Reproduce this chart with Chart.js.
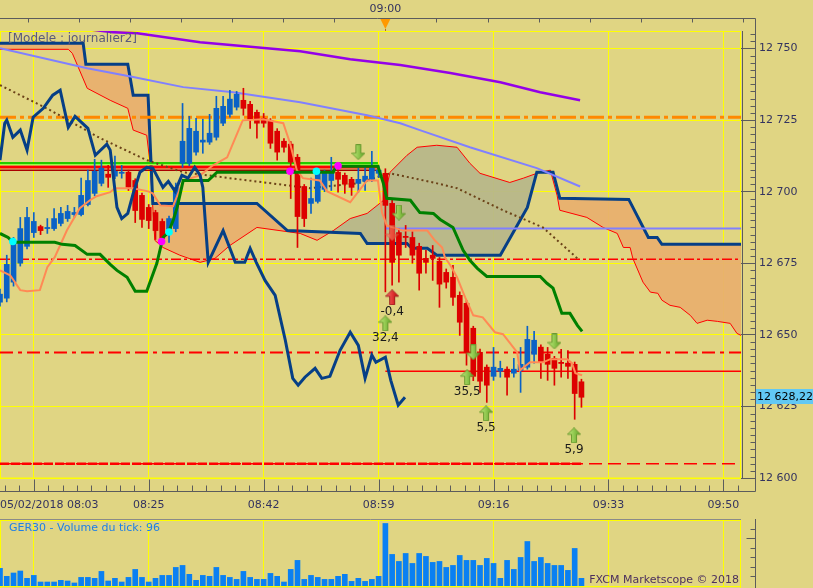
<!DOCTYPE html>
<html>
<head>
<meta charset="utf-8">
<script src="https://cdn.jsdelivr.net/npm/chart.js@4.4.1/dist/chart.umd.min.js"></script>
<style>
html, body { margin: 0; padding: 0; background: #e0d583; }
#wrap { position: relative; width: 813px; height: 588px; overflow: hidden; background: #e0d583; }
#main { position: absolute; left: 0; top: 0; }
#vol { position: absolute; left: 0; top: 519px; }
</style>
</head>
<body>
<div id="wrap">
    <canvas id="main" width="813" height="519"></canvas>
    <canvas id="vol" width="813" height="69"></canvas>
</div>
<script>
// x = minutes after 08:03 (one candle per minute)
const gridMinutes = [5, 22, 39, 56, 73, 90, 107];
const timeLabels  = ['', '08:25', '08:42', '08:59', '09:16', '09:33', '09:50'];
const firstLabel  = '05/02/2018 08:03';
const priceTicks  = [12600, 12625, 12650, 12675, 12700, 12725, 12750];
const lastPrice   = 12628.22;

const opens = [12661.4,12662.8,12668.4,12675.0,12680.9,12685.7,12687.8,12687.1,12687.1,12688.9,
    12690.6,12692.0,12692.0,12695.5,12699.4,12702.9,12706.1,12705.4,12706.4,12706.8,
    12703.9,12698.7,12694.5,12692.7,12689.6,12685.7,12687.1,12709.9,12709.9,12713.8,
    12717.3,12717.3,12719.0,12723.9,12727.0,12729.5,12731.9,12730.5,12727.7,12725.6,
    12724.9,12721.1,12717.6,12716.6,12712.0,12701.8,12695.9,12696.6,12700.8,12703.9,
    12706.8,12705.7,12704.3,12702.9,12703.6,12704.3,12706.4,12706.4,12695.9,12685.7,
    12684.4,12684.0,12680.9,12676.7,12677.8,12675.7,12671.8,12670.1,12663.8,12661.0,
    12652.3,12643.9,12638.7,12635.5,12637.3,12638.0,12636.6,12637.6,12638.7,12643.2,
    12645.7,12643.2,12641.8,12640.4,12640.1,12639.7,12633.6];
const highs = [12666.0,12677.8,12684.0,12691.0,12694.5,12692.7,12688.3,12690.6,12694.1,12694.5,
    12695.2,12694.5,12704.7,12707.5,12711.3,12711.0,12709.2,12712.4,12709.2,12707.5,
    12704.5,12699.5,12695.5,12693.5,12690.5,12691.5,12703.0,12730.8,12726.3,12725.6,
    12725.3,12727.0,12733.3,12733.3,12735.4,12735.0,12736.1,12731.5,12728.5,12727.3,
    12725.5,12722.0,12718.5,12717.5,12713.0,12702.5,12704.7,12708.2,12707.5,12712.0,
    12708.9,12706.5,12705.0,12708.2,12708.5,12714.1,12709.0,12708.0,12697.0,12687.0,
    12688.2,12686.0,12682.0,12679.5,12681.2,12677.0,12673.0,12674.3,12665.0,12662.0,
    12653.0,12645.0,12639.5,12645.6,12640.8,12638.8,12641.8,12645.6,12653.0,12651.2,
    12646.5,12645.6,12642.5,12644.9,12644.5,12640.5,12634.5];
const lows = [12660.0,12661.5,12667.0,12674.0,12680.0,12684.0,12685.0,12685.4,12686.5,12688.0,
    12689.6,12691.0,12691.5,12695.0,12698.5,12702.0,12701.5,12704.5,12704.7,12700.4,
    12689.2,12687.5,12687.1,12683.3,12682.5,12682.3,12686.0,12708.5,12709.0,12712.7,
    12713.4,12716.5,12718.0,12723.0,12726.0,12728.5,12726.7,12722.1,12718.7,12722.5,
    12715.1,12711.0,12713.8,12697.6,12680.5,12687.8,12692.4,12696.0,12700.0,12700.4,
    12699.8,12699.4,12698.7,12699.8,12700.4,12703.5,12705.0,12665.0,12667.3,12668.4,
    12680.5,12675.0,12665.6,12671.5,12669.0,12659.6,12666.3,12660.3,12649.8,12639.4,
    12634.0,12629.9,12626.4,12634.1,12635.2,12628.9,12635.2,12629.9,12638.0,12640.1,
    12634.8,12634.1,12632.4,12635.2,12634.8,12620.5,12624.7];
const closes = [12664.2,12674.6,12682.3,12687.1,12691.0,12689.6,12686.4,12687.5,12690.6,12692.4,
    12693.1,12692.7,12698.7,12703.9,12707.1,12708.2,12705.0,12707.1,12706.8,12701.5,
    12693.4,12690.3,12689.9,12686.4,12683.7,12690.6,12701.5,12717.6,12722.1,12721.1,
    12718.0,12720.4,12729.1,12729.8,12732.3,12734.0,12729.1,12725.3,12723.9,12723.9,
    12716.9,12713.8,12715.5,12710.3,12691.3,12690.6,12697.6,12706.8,12706.8,12706.8,
    12704.3,12702.6,12701.5,12704.3,12705.4,12708.2,12707.5,12695.2,12675.3,12677.8,
    12684.0,12677.8,12671.5,12675.3,12676.7,12667.7,12668.4,12663.1,12654.4,12643.9,
    12635.5,12633.8,12632.4,12638.7,12638.3,12635.2,12638.0,12639.7,12648.4,12648.1,
    12640.4,12639.7,12638.3,12640.0,12639.0,12629.5,12628.2];
const volumes = [221,121,163,188,96,133,50,50,50,71,63,38,108,108,96,183,63,96,50,108,
    208,108,50,96,133,133,233,258,146,71,133,121,233,133,108,83,183,108,83,83,
    158,121,50,208,321,83,133,108,83,83,121,146,58,96,58,83,121,784,396,308,
    408,283,408,371,296,308,233,258,383,321,321,258,346,283,96,321,208,358,558,308,
    358,283,258,258,196,471,96];

// Ichimoku cloud (spans shifted forward)
const spanAX = [0,10.1,10.7,12.9,16.3,18.9,19.7,21.7,22.2,22.9,24.1,26.6,29.6,31.8,34.0,38.0,44.4,46.9,49.3,
    51.8,54.3,56.7,57.7,60.2,61.7,64.6,67.6,69.5,71.0,75.4,77.4,79.4,81.4,82.4,82.8,86.8,89.2,91.3,
    92.2,93.2,93.6,95.1,96.2,97.3,97.9,99.1,100.6,102.1,103.1,104.6,106.1,108.0,109.0,110.2];
const spanAY = [12749.7,12749.7,12748.3,12736.1,12731.9,12729.1,12721.5,12719.7,12709.9,12683.0,12680.5,
    12677.8,12675.3,12676.7,12681.2,12687.5,12685.4,12683.0,12686.4,12690.6,12692.4,12696.9,12706.8,
    12712.7,12715.5,12716.2,12715.5,12709.9,12706.4,12703.2,12704.7,12706.4,12707.5,12698.7,12693.5,
    12691.0,12687.5,12685.4,12680.5,12680.5,12676.7,12668.4,12664.9,12664.5,12662.1,12660.3,12659.6,
    12656.8,12654.0,12655.1,12654.7,12654.0,12650.5,12649.1];
const spanBX = [0,12.3,12.7,18.9,19.7,21.9,22.6,38.0,42.5,53.3,54.3,60.2,60.9,63.2,64.6,74.0,78.0,79.4,
    81.8,82.8,93.0,95.9,97.2,97.9,110.2];
const spanBY = [12751.8,12751.8,12744.5,12744.5,12733.7,12733.7,12695.9,12695.9,12686.4,12685.4,12681.9,
    12681.9,12680.2,12680.2,12677.8,12677.8,12694.5,12706.8,12706.8,12697.7,12697.3,12684.0,12684.0,
    12681.6,12681.6];

const tenkanX = [0,1.5,3.0,4.0,5.9,7.0,8.1,9.9,11.8,13.3,14.3,16.3,17.0,19.7,21.9,22.6,23.7,25.6,27.1,
    29.6,31.5,33.6,35.1,35.9,38.9,41.9,42.9,43.9,44.8,47.3,48.4,51.8,52.8,54.3,55.9,56.5,57.2,59.6,
    63.2,64.3,65.4,65.8,66.6,67.6,68.8,70.0,71.4,73.2,74.4,76.5,76.9,78.4,80.3,81.4,83.9,84.6,85.1,86.1];
const tenkanY = [12672.5,12670.8,12665.6,12665.2,12665.6,12673.6,12677.1,12686.5,12694.2,12697.0,12698.4,
    12699.8,12701.2,12701.2,12700.1,12699.4,12695.2,12694.9,12703.9,12705.7,12709.2,12712.0,12720.4,
    12724.9,12725.3,12723.9,12716.9,12707.5,12704.7,12703.9,12700.1,12696.3,12699.4,12703.9,12703.9,
    12692.7,12688.2,12686.4,12686.4,12683.0,12680.5,12677.1,12674.3,12670.1,12663.1,12656.8,12656.1,
    12650.9,12650.2,12643.9,12637.6,12640.4,12640.4,12641.5,12641.5,12640.1,12636.6,12635.9];

const kijunX = [0,1.2,1.9,8.1,9.2,11.1,12.9,14.8,16.3,17.3,18.8,20.0,21.7,23.2,24.1,24.9,25.6,26.2,27.1,
    30.8,32.1,49.3,49.7,55.9,56.7,57.2,60.7,62.1,64.1,65.1,67.0,68.5,69.5,70.6,72.0,79.9,80.9,81.8,
    83.1,84.3,85.4,86.1];
const kijunY = [12685.4,12684.0,12682.3,12682.3,12681.6,12681.2,12678.1,12678.1,12674.6,12672.5,12670.1,
    12665.2,12665.2,12675.0,12684.0,12685.7,12689.9,12694.5,12703.9,12703.9,12706.8,12706.8,12708.9,
    12708.9,12702.9,12697.7,12697.0,12692.7,12692.4,12690.3,12687.5,12679.5,12676.0,12673.2,12670.4,
    12670.4,12668.0,12666.3,12657.5,12657.5,12653.3,12651.2];

const chikouX = [0,0.7,1.0,1.9,3.0,4.0,4.9,6.4,7.8,8.9,10.1,11.1,13.0,14.1,15.8,16.3,17.3,18.0,18.9,
    19.7,20.7,21.7,22.6,24.1,24.9,25.9,26.9,27.8,28.8,29.6,30.0,30.8,33.0,34.8,36.2,37.0,37.9,39.2,
    40.7,42.2,43.3,44.1,45.1,46.6,47.6,48.8,50.3,51.8,53.0,54.0,55.0,55.6,57.0,57.8,58.9,59.9];
const chikouY = [12711.0,12723.9,12725.0,12719.0,12721.5,12714.5,12726.0,12729.1,12733.7,12735.4,12722.5,
    12726.3,12722.1,12712.7,12716.6,12714.5,12694.5,12690.6,12692.4,12699.4,12706.8,12708.5,12708.2,
    12701.5,12703.6,12700.1,12705.7,12704.7,12708.5,12705.7,12701.5,12675.3,12686.4,12675.3,12675.3,
    12680.2,12675.3,12669.0,12663.8,12648.1,12634.8,12632.4,12635.2,12638.3,12634.8,12635.5,12644.6,
    12650.9,12646.3,12634.8,12642.9,12640.4,12642.2,12634.1,12625.4,12628.2];

const maSlowX = [10.0,16.7,20.3,29.6,44.4,51.8,59.2,66.6,74.0,79.9,85.8];
const maSlowY = [12757.5,12755.7,12755.3,12752.2,12749.0,12746.2,12744.2,12741.4,12738.2,12734.7,12731.9];
const maMidX = [0,12.9,19.7,27.1,34.5,44.4,54.3,59.2,62.1,69.5,79.4,85.8];
const maMidY = [12750.1,12743.1,12740.0,12736.5,12734.7,12731.2,12726.7,12723.9,12721.5,12715.5,12708.2,12701.8];
const maDotX = [0,7.4,14.8,21.7,27.1,34.0,45.9,52.8,57.7,64.1,67.6,74.4,80.3,85.4];
const maDotY = [12737.2,12728.5,12718.7,12711.0,12706.8,12704.7,12701.2,12702.9,12706.4,12703.2,12701.2,12693.5,12687.5,12676.7];

// horizontal levels: price, from minute, to minute
const bandPrices = [12710.0, 12709.5, 12708.6, 12707.5];
const bandFrom = 0, bandTo = 55.9;
const orangeLevel = 12726.0;
const redDashDot = [12676.4, 12643.8];
const redSolid = 12637.3;
const redDashed = 12605.0;
const blueLevel = 12687.1;
const levelFrom = 57, levelTo = 110.5, lastCandle = 86;

// markers
const downArrowX = [53, 59, 70, 82];
const downArrowY = [12713.8, 12692.7, 12643.9, 12647.7];
const upArrowX = [57, 69.1, 71.9, 84.9];
const upArrowY = [12654.0, 12635.2, 12622.6, 12614.9];
const upArrowTags = ['32,4', '35,5', '5,5', '5,9'];
const redArrowX = [58];
const redArrowY = [12663.1];
const redArrowTags = ['-0,4'];
const fadedArrowX = [58];
const fadedArrowY = [12685.5];
const cyanX = [1.9, 25.0, 46.8];
const cyanY = [12682.6, 12685.9, 12707.1];
const magentaX = [23.9, 42.9, 50.0];
const magentaY = [12682.6, 12707.1, 12709.0];

const X_MAX = 109.6;
const Y_MIN = 12600, Y_MAX = 12756.1;
const VOL_MAX = 840;
const textColor = '#33335f';
const axisColor = '#5c5c5c';
const FONT = "'DejaVu Sans', sans-serif";
Chart.defaults.font.family = FONT;

const pts = (xs, ys) => xs.map((x, k) => ({ x, y: ys[k] }));
const level = (p, a, b) => [{ x: a, y: p }, { x: b, y: p }];
const fmt = v => String(v).replace(/\B(?=(\d{3})+(?!\d))/g, ' ');
const half = v => Math.round(v) + 0.5;

function arrowImg(up, c1, c2, edge) {
    const cv = document.createElement('canvas');
    cv.width = 14; cv.height = 16;
    const g = cv.getContext('2d');
    const grad = g.createLinearGradient(0, 0, 14, 0);
    grad.addColorStop(0, c1); grad.addColorStop(1, c2);
    g.beginPath();
    if (up) {
        g.moveTo(7, 0.5); g.lineTo(13.5, 7); g.lineTo(9.5, 7); g.lineTo(9.5, 15.5);
        g.lineTo(4.5, 15.5); g.lineTo(4.5, 7); g.lineTo(0.5, 7);
    } else {
        g.moveTo(7, 15.5); g.lineTo(13.5, 9); g.lineTo(9.5, 9); g.lineTo(9.5, 0.5);
        g.lineTo(4.5, 0.5); g.lineTo(4.5, 9); g.lineTo(0.5, 9);
    }
    g.closePath();
    g.fillStyle = grad; g.fill();
    g.strokeStyle = edge; g.lineWidth = 1; g.stroke();
    return cv;
}

const candleX = opens.map((_, i) => i);
const candleColors = closes.map((c, i) => c >= opens[i] ? '#0a62c6' : '#dd0000');

const lineDs = (data, color, width, order, extra) => Object.assign({
    type: 'line', data, borderColor: color, borderWidth: width, pointRadius: 0,
    tension: 0, fill: false, order
}, extra || {});

const markerDs = (xs, ys, style, order, extra) => Object.assign({
    type: 'line', data: pts(xs, ys), showLine: false, pointStyle: style,
    pointRadius: 4, order
}, extra || {});

const datasets = [
    lineDs(pts(spanAX, spanAY), '#ff0000', 1, 100, {
        fill: { target: 1, above: 'rgba(183,183,137,0.95)', below: 'rgba(232,176,110,0.95)' }
    }),
    lineDs(pts(spanBX, spanBY), '#063f86', 3, 99),
    lineDs(level(orangeLevel, 0, levelTo), '#ff8800', 3, 90, { borderDash: [16, 4, 4, 4] }),
    lineDs(level(redDashDot[0], 0, levelTo), '#ff0000', 1.5, 90, { borderDash: [10, 3, 3, 3] }),
    lineDs(level(redDashDot[1], 0, levelTo), '#ff0000', 2, 90, { borderDash: [13, 5, 4, 5] }),
    lineDs(level(redSolid, levelFrom, levelTo), '#ff0000', 1.5, 90),
    lineDs(level(redDashed, 0, lastCandle), '#ff0000', 2.5, 90, { borderDash: [9, 2] }),
    lineDs(level(redDashed, 0, levelTo), '#ff0000', 1.5, 90, { borderDash: [13, 6] }),
    lineDs(level(blueLevel, levelFrom, levelTo), '#8080ff', 2, 90),
    lineDs(level(bandPrices[0], bandFrom, bandTo), '#22cc00', 2, 88),
    lineDs(level(bandPrices[1], bandFrom, bandTo), '#99ff44', 1.5, 88),
    lineDs(level(bandPrices[2], bandFrom, bandTo), '#ff0000', 3, 88),
    lineDs(level(bandPrices[3], bandFrom, bandTo), '#aa0000', 1.5, 88),
    lineDs(pts(maSlowX, maSlowY), '#9400e8', 2.5, 80),
    lineDs(pts(maMidX, maMidY), '#8080ff', 2, 80),
    lineDs(pts(maDotX, maDotY), '#6b4218', 2, 80, { borderDash: [2, 3] }),
    {
        type: 'bar', data: candleX.map(i => ({ x: i, y: [lows[i], highs[i]] })),
        backgroundColor: candleColors, barThickness: 1, grouped: false, order: 70
    },
    {
        type: 'bar', data: candleX.map(i => ({ x: i, y: [opens[i], closes[i]] })),
        backgroundColor: candleColors, barThickness: 5, grouped: false, order: 69
    },
    lineDs(pts(tenkanX, tenkanY), '#ff8a55', 2, 60),
    lineDs(pts(kijunX, kijunY), '#008000', 3, 59),
    lineDs(pts(chikouX, chikouY), '#063f86', 3, 58),
    markerDs(cyanX, cyanY, 'circle', 10, { pointRadius: 3.8, pointBackgroundColor: '#00ffff', pointBorderWidth: 0 }),
    markerDs(magentaX, magentaY, 'circle', 10, { pointRadius: 3.8, pointBackgroundColor: '#ff00ff', pointBorderWidth: 0 }),
    markerDs(fadedArrowX, fadedArrowY, arrowImg(false, 'rgba(255,150,120,0.75)', 'rgba(220,60,40,0.75)', 'rgba(200,80,60,0.6)'), 6),
    markerDs(downArrowX, downArrowY, arrowImg(false, '#c8f080', '#5aa020', '#6a9a30'), 5),
    markerDs(upArrowX, upArrowY, arrowImg(true, '#c8f080', '#5aa020', '#6a9a30'), 5, { tags: upArrowTags }),
    markerDs(redArrowX, redArrowY, arrowImg(true, '#ff7070', '#c00000', '#a02020'), 5, { tags: redArrowTags })
];

const mainDeco = {
    id: 'mainDeco',
    beforeDatasetsDraw(chart) {
        const { ctx, chartArea: a } = chart;
        ctx.save();
        ctx.strokeStyle = '#ffff00';
        ctx.lineWidth = 1;
        ctx.strokeRect(a.left + 0.5, a.top + 0.5, a.right - a.left - 1, a.bottom - a.top - 0.5);
        ctx.restore();
    },
    afterDatasetsDraw(chart) {
        const { ctx } = chart;
        ctx.save();
        ctx.font = '12px ' + FONT;
        ctx.fillStyle = '#1a1a1a';
        ctx.textAlign = 'center';
        ctx.textBaseline = 'middle';
        chart.data.datasets.forEach((ds, i) => {
            if (!ds.tags) return;
            chart.getDatasetMeta(i).data.forEach((el, k) => ctx.fillText(ds.tags[k], el.x, el.y + 15));
        });
        ctx.restore();
    },
    afterDraw(chart) {
        const { ctx, chartArea: a, scales: { x, y } } = chart;
        const axR = a.right + 14.5, topY = 18.5, botY = 491.5;
        ctx.save();
        ctx.strokeStyle = axisColor;
        ctx.lineWidth = 1;
        ctx.beginPath();
        ctx.moveTo(0, topY); ctx.lineTo(axR, topY);
        ctx.moveTo(axR, topY); ctx.lineTo(axR, botY);
        ctx.moveTo(0, botY); ctx.lineTo(axR, botY);
        ctx.moveTo(a.right + 1.5, a.top); ctx.lineTo(a.right + 1.5, a.bottom);
        for (let m = 57 - 7.56 * 7; m <= x.max + 0.5; m += 7.56) {
            const p = half(x.getPixelForValue(m));
            ctx.moveTo(p, topY); ctx.lineTo(p, topY + 4);
        }
        for (let k = 1; k < 63; k++) {
            if (k % 10 === 0) continue;
            const q = half(y.getPixelForValue(Y_MIN + 2.5 * k));
            ctx.moveTo(axR - 5, q); ctx.lineTo(axR, q);
        }
        for (let k = -2; k < 50; k++) {
            const p = half(x.getPixelForValue(5 + k * 17 / 8));
            if (p > axR) break;
            ctx.moveTo(p, botY); ctx.lineTo(p, botY - (k % 8 === 0 ? 12 : 6));
        }
        ctx.stroke();

        // 09:00 marker on top strip
        const m0 = x.getPixelForValue(57);
        ctx.fillStyle = '#ff9900';
        ctx.beginPath();
        ctx.moveTo(m0 - 5, 19); ctx.lineTo(m0 + 5, 19); ctx.lineTo(m0, 29);
        ctx.closePath(); ctx.fill();
        ctx.strokeStyle = '#b07020';
        ctx.beginPath(); ctx.moveTo(half(m0), 29); ctx.lineTo(half(m0), 31); ctx.stroke();

        ctx.font = '11px ' + FONT;
        ctx.fillStyle = textColor;
        ctx.textBaseline = 'middle';
        ctx.textAlign = 'center';
        ctx.fillText('09:00', m0, 9);
        gridMinutes.forEach((m, k) => {
            if (timeLabels[k]) ctx.fillText(timeLabels[k], x.getPixelForValue(m), 505);
        });
        ctx.textAlign = 'left';
        ctx.fillText(firstLabel, 0, 505);

        ctx.fillStyle = '#5a5a7c';
        ctx.font = '12px ' + FONT;
        ctx.fillText('[Modele : journalier2]', 8, 39);

        // last price tag
        const lp = y.getPixelForValue(lastPrice);
        ctx.fillStyle = '#62c8f4';
        ctx.fillRect(756, Math.round(lp) - 8, 57, 15);
        ctx.fillStyle = '#000000';
        ctx.font = '11px ' + FONT;
        ctx.fillText('12 628,22', 757, lp);
        ctx.restore();
    }
};

new Chart(document.getElementById('main'), {
    type: 'bar',
    data: { datasets },
    options: {
        responsive: false,
        animation: false,
        devicePixelRatio: 1,
        layout: { autoPadding: false, padding: { top: 31, left: 0, right: 0, bottom: 0 } },
        scales: {
            x: {
                type: 'linear', min: 0, max: X_MAX, offset: false,
                afterBuildTicks: ax => { ax.ticks = gridMinutes.map(v => ({ value: v })); },
                afterFit: ax => { ax.height = 41; },
                grid: { color: '#ffff00', lineWidth: 1, drawTicks: false, offset: false },
                border: { display: false },
                ticks: { display: false }
            },
            y: {
                type: 'linear', position: 'right', min: Y_MIN, max: Y_MAX,
                afterBuildTicks: ax => { ax.ticks = priceTicks.map(v => ({ value: v })); },
                afterFit: ax => { ax.width = 72; },
                grid: { color: '#ffff00', tickColor: axisColor, tickLength: 14 },
                border: { display: false },
                ticks: { color: textColor, font: { size: 11, family: FONT }, padding: 4, callback: v => fmt(v) }
            }
        },
        plugins: { legend: { display: false }, tooltip: { enabled: false } }
    },
    plugins: [mainDeco]
});

const volDeco = {
    id: 'volDeco',
    beforeDatasetsDraw(chart) {
        const { ctx, chartArea: a } = chart;
        ctx.save();
        ctx.strokeStyle = '#ffff00';
        ctx.lineWidth = 1;
        ctx.beginPath();
        ctx.moveTo(0.5, 1.5); ctx.lineTo(a.right - 0.5, 1.5);
        ctx.moveTo(0.5, 1); ctx.lineTo(0.5, 69);
        ctx.moveTo(a.right - 0.5, 1); ctx.lineTo(a.right - 0.5, 69);
        ctx.moveTo(0, 67.5); ctx.lineTo(a.right, 67.5);
        ctx.stroke();
        ctx.strokeStyle = '#8a8a8a';
        ctx.beginPath(); ctx.moveTo(0, 0.5); ctx.lineTo(a.right, 0.5); ctx.stroke();
        ctx.restore();
    },
    afterDraw(chart) {
        const { ctx, chartArea: a, scales: { y } } = chart;
        const axR = a.right + 14.5;
        ctx.save();
        ctx.strokeStyle = axisColor;
        ctx.lineWidth = 1;
        ctx.beginPath();
        ctx.moveTo(axR, 0); ctx.lineTo(axR, 69);
        for (let v = 120; v < VOL_MAX; v += 120) {
            const q = half(y.getPixelForValue(v));
            ctx.moveTo(axR - (v === 600 ? 9 : 5), q); ctx.lineTo(axR, q);
        }
        ctx.stroke();
        ctx.font = '11px ' + FONT;
        ctx.textBaseline = 'middle';
        ctx.fillStyle = '#1e7fe6';
        ctx.fillText('GER30 - Volume du tick: 96', 9, 9);
        ctx.fillStyle = '#4b2f5e';
        ctx.textAlign = 'right';
        ctx.fillText('FXCM Marketscope \u00a9 2018', 739, 61);
        ctx.restore();
    }
};

new Chart(document.getElementById('vol'), {
    type: 'bar',
    data: {
        datasets: [{
            data: volumes.map((v, i) => ({ x: i, y: v })),
            backgroundColor: '#0a80f2', barThickness: 5, grouped: false
        }]
    },
    options: {
        responsive: false,
        animation: false,
        devicePixelRatio: 1,
        layout: { autoPadding: false, padding: { top: 0, left: 0, right: 72, bottom: 0 } },
        scales: {
            x: {
                type: 'linear', min: 0, max: X_MAX, offset: false,
                afterBuildTicks: ax => { ax.ticks = gridMinutes.map(v => ({ value: v })); },
                afterFit: ax => { ax.height = 2; },
                grid: { color: '#ffff00', drawTicks: false, offset: false },
                border: { display: false },
                ticks: { display: false }
            },
            y: { min: 0, max: VOL_MAX, display: false }
        },
        plugins: { legend: { display: false }, tooltip: { enabled: false } }
    },
    plugins: [volDeco]
});
</script>
</body>
</html>
